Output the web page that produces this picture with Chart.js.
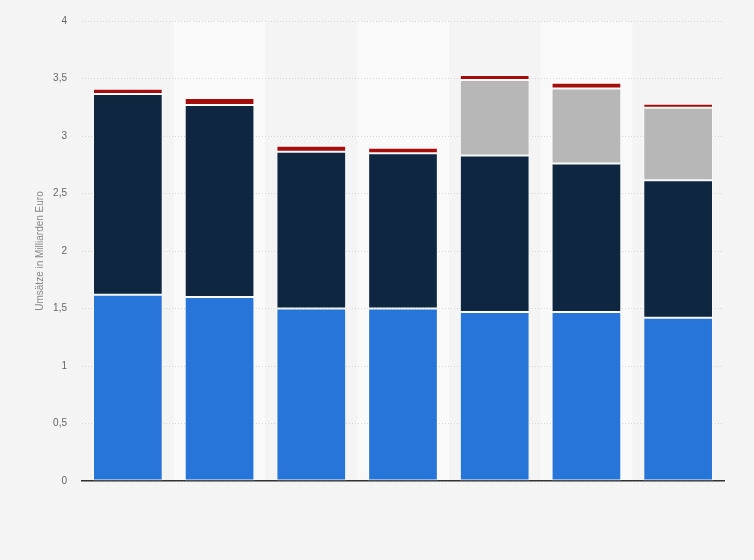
<!DOCTYPE html>
<html>
<head>
<meta charset="utf-8">
<script src="https://cdn.jsdelivr.net/npm/chart.js@4.4.0/dist/chart.umd.min.js"></script>
<style>
html,body{margin:0;padding:0;background:#f4f4f4;}
#wrap{width:754px;height:560px;position:relative;}
</style>
</head>
<body>
<div id="wrap"><canvas id="c" width="754" height="560"></canvas></div>
<script>
const categories = ['1','2','3','4','5','6','7'];
const seriesBlue = [1.62, 1.60, 1.50, 1.50, 1.47, 1.47, 1.42];
const seriesNavy = [1.745, 1.67, 1.363, 1.35, 1.36, 1.29, 1.195];
const seriesGray = [0, 0, 0, 0, 0.658, 0.653, 0.63];
const seriesRed = [0.046, 0.06, 0.052, 0.048, 0.043, 0.05, 0.035];
const yTicks = [0, 0.5, 1, 1.5, 2, 2.5, 3, 3.5, 4];
const yTitle = 'Umsätze in Milliarden Euro';

const bgPlugin = {
  id: 'bg',
  beforeDraw(chart) {
    const {ctx, chartArea, scales} = chart;
    ctx.save();
    ctx.fillStyle = '#f4f4f4';
    ctx.fillRect(0, 0, chart.width, chart.height);
    const x = scales.x;
    const w = (chartArea.right - chartArea.left) / categories.length;
    ctx.fillStyle = '#f9f9f9';
    categories.forEach((c, i) => {
      if (i % 2 === 1) {
        const cx = x.getPixelForValue(i);
        ctx.fillRect(cx - w / 2, chartArea.top, w, chartArea.bottom - chartArea.top);
      }
    });
    ctx.restore();
  }
};

const common = {borderWidth: 1, borderColor: 'rgba(255,255,255,0.5)', barPercentage: 0.76, categoryPercentage: 1.0, borderSkipped: false};

new Chart(document.getElementById('c'), {
  type: 'bar',
  data: {
    labels: categories,
    datasets: [
      Object.assign({label: 'Serie 1', data: seriesBlue, backgroundColor: '#2775d9'}, common),
      Object.assign({label: 'Serie 2', data: seriesNavy, backgroundColor: '#0f2640'}, common),
      Object.assign({label: 'Serie 3', data: seriesGray, backgroundColor: '#b7b7b7'}, common),
      Object.assign({label: 'Serie 4', data: seriesRed, backgroundColor: '#a50d0d'}, common)
    ]
  },
  options: {
    responsive: false,
    animation: false,
    devicePixelRatio: 1,
    layout: {padding: {top: 19, right: 30, bottom: 79, left: 0}},
    plugins: {legend: {display: false}, tooltip: {enabled: false}},
    scales: {
      x: {
        stacked: true,
        ticks: {display: false},
        grid: {display: false},
        border: {display: true, color: '#333333', width: 1.5},
        afterFit(s) { s.height = 0; }
      },
      y: {
        stacked: true,
        min: 0, max: 4,
        afterBuildTicks(s) { s.ticks = yTicks.map(v => ({value: v})); },
        ticks: {
          color: '#666666',
          padding: 15,
          font: {family: 'Liberation Sans, Arial, sans-serif', size: 10},
          callback: v => String(v).replace('.', ',')
        },
        grid: {color: '#d8d8d8', lineWidth: 1, drawTicks: false},
        border: {display: false, dash: [1, 2]},
        title: {display: true, text: yTitle, color: '#888888', font: {family: 'Liberation Sans, Arial, sans-serif', size: 10}, padding: {top: 34, bottom: 0}},
        afterFit(s) { s.width = 82; }
      }
    }
  },
  plugins: [bgPlugin]
});
</script>
</body>
</html>
